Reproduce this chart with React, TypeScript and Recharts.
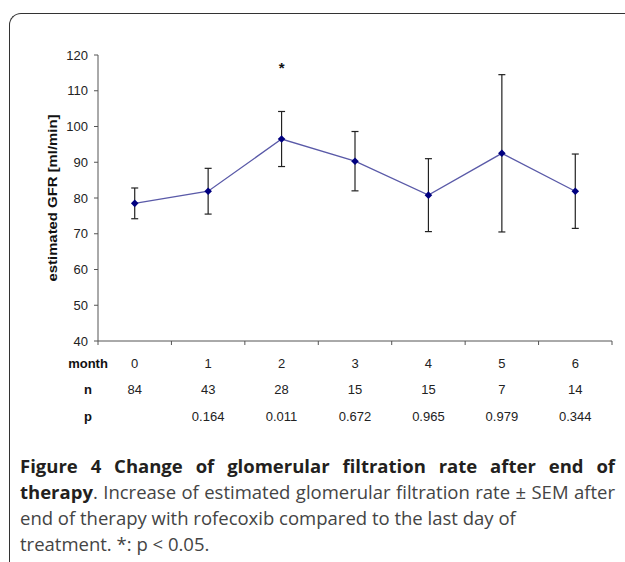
import React from 'react';
import { LineChart, Line, XAxis, YAxis, ErrorBar } from 'recharts';

const months = ['0', '1', '2', '3', '4', '5', '6'];
const nValues = ['84', '43', '28', '15', '15', '7', '14'];
const pValues = ['', '0.164', '0.011', '0.672', '0.965', '0.979', '0.344'];
const gfr = [78.5, 81.9, 96.5, 90.3, 80.8, 92.5, 81.9];
const sem = [4.3, 6.4, 7.7, 8.3, 10.2, 22.0, 10.4];
const starLevel = [null, null, 116.7, null, null, null, null];
const yTicks = [40, 50, 60, 70, 80, 90, 100, 110, 120];

const data = months.map((m, i) => ({
  month: m,
  gfr: gfr[i],
  sem: sem[i],
  star: starLevel[i],
}));

const AXIS_FONT = '"Liberation Sans", Arial, sans-serif';
const AXIS_COLOR = '#555';

const Diamond = (props: any) => {
  const { cx, cy, index } = props;
  if (cx == null || cy == null) return <g key={`d-${index}`} />;
  const r = 3.8;
  return (
    <path
      key={`d-${index}`}
      d={`M${cx},${cy - r}L${cx + r},${cy}L${cx},${cy + r}L${cx - r},${cy}Z`}
      fill="#000080"
    />
  );
};

const Star = (props: any) => {
  const { cx, cy, index } = props;
  if (cx == null || cy == null) return <g key={`s-${index}`} />;
  return (
    <text key={`s-${index}`} x={cx} y={cy + 6} textAnchor="middle" fontSize={15} fontWeight="bold" fontFamily={AXIS_FONT} fill="#111">
      *
    </text>
  );
};

// month / n / p table drawn under each category
const TableTick = (props: any) => {
  const { x, y, payload, index } = props;
  const i = index ?? payload.index;
  const half = payload.offset || 36.7;
  const txt = { fontFamily: AXIS_FONT, fontSize: 13, fill: '#222', textAnchor: 'middle' as const };
  const lbl = { ...txt, fontWeight: 'bold' as const, fill: '#111' };
  const labelX = x - half - 10;
  return (
    <g>
      <line x1={x - half} y1={y} x2={x - half} y2={y + 4} stroke={AXIS_COLOR} />
      {i === months.length - 1 && <line x1={x + half} y1={y} x2={x + half} y2={y + 4} stroke={AXIS_COLOR} />}
      <text x={x} y={y + 27} {...txt}>{months[i]}</text>
      <text x={x} y={y + 53} {...txt}>{nValues[i]}</text>
      <text x={x} y={y + 80} {...txt}>{pValues[i]}</text>
      {i === 0 && (
        <>
          <text x={labelX} y={y + 27} {...lbl}>month</text>
          <text x={labelX} y={y + 53} {...lbl}>n</text>
          <text x={labelX} y={y + 80} {...lbl}>p</text>
        </>
      )}
    </g>
  );
};

const YLabel = () => (
  <text
    x={53}
    y={198}
    transform="rotate(-90 53 198)"
    textAnchor="middle"
    dominantBaseline="central"
    fontFamily={AXIS_FONT}
    fontSize={12}
    fontWeight="bold"
    fill="#111"
    textLength={167}
    lengthAdjust="spacingAndGlyphs"
  >
    estimated GFR [ml/min]
  </text>
);

const justified: React.CSSProperties = { textAlign: 'justify', textAlignLast: 'justify' as any, whiteSpace: 'nowrap' };

export default function App() {
  return (
    <div style={{ position: 'absolute', left: 0, top: 0, width: 625, height: 562, background: '#fff', overflow: 'hidden' }}>
      <div
        style={{
          position: 'absolute', left: 9, top: 13, width: 700, height: 600,
          borderTop: '1.5px solid #333', borderLeft: '1.5px solid #333', borderTopLeftRadius: 12,
        }}
      />
      <div style={{ position: 'absolute', left: 0, top: 0 }}>
        <LineChart width={625} height={440} data={data} margin={{ top: 55, right: 13, left: 38, bottom: 9 }}>
          <XAxis
            dataKey="month"
            scale="band"
            axisLine={{ stroke: AXIS_COLOR }}
            tickLine={false}
            tickSize={0}
            tickMargin={0}
            height={90}
            interval={0}
            tick={<TableTick />}
          />
          <YAxis
            type="number"
            domain={[40, 120]}
            ticks={yTicks}
            width={60}
            axisLine={{ stroke: AXIS_COLOR }}
            tickLine={{ stroke: AXIS_COLOR }}
            tickSize={4}
            tickMargin={6}
            tick={{ fontFamily: AXIS_FONT, fontSize: 13, fill: '#222' }}
            label={<YLabel />}
          />
          <Line
            dataKey="gfr"
            stroke="#5a5aa8"
            strokeWidth={1.3}
            dot={<Diamond />}
            activeDot={false}
            isAnimationActive={false}
          >
            <ErrorBar dataKey="sem" width={3.5} stroke="#222" strokeWidth={1.2} direction="y" isAnimationActive={false} />
          </Line>
          <Line
            dataKey="star"
            stroke="none"
            dot={<Star />}
            activeDot={false}
            isAnimationActive={false}
          />
        </LineChart>
      </div>
      <div
        style={{
          position: 'absolute', left: 20, top: 453, width: 595,
          fontFamily: '"Open Sans", sans-serif', fontSize: 18.5, lineHeight: '26px', color: '#444',
        }}
      >
        <div style={{ ...justified, fontWeight: 700, color: '#231f20' }}>
          Figure 4 Change of glomerular filtration rate after end of
        </div>
        <div style={justified}>
          <span style={{ fontWeight: 700, color: '#231f20' }}>therapy</span>. Increase of estimated glomerular filtration rate ± SEM after
        </div>
        <div>end of therapy with rofecoxib compared to the last day of</div>
        <div>treatment. *: p &lt; 0.05.</div>
      </div>
    </div>
  );
}
